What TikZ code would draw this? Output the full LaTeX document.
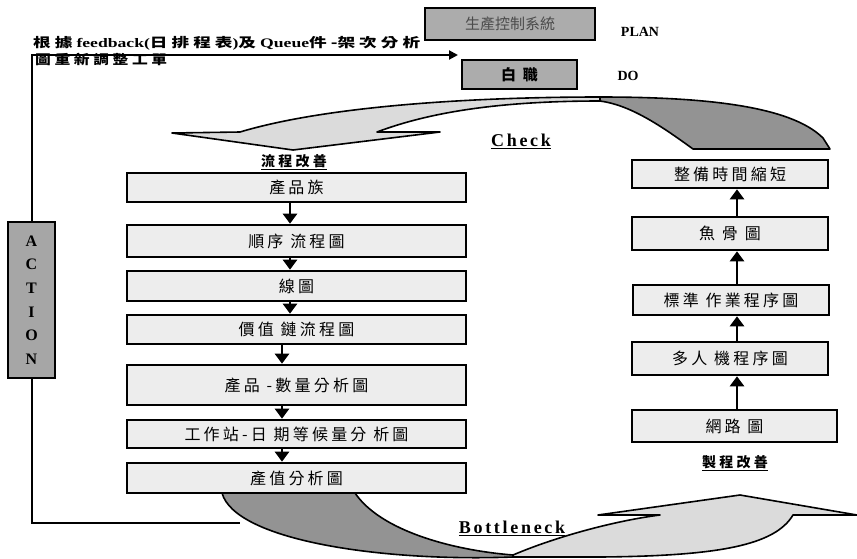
\documentclass[tikz,border=0pt]{standalone}
\usepackage{fontspec}
\usepackage{graphicx}
\setmainfont{Liberation Serif}
\newfontfamily\cjk{Noto Sans CJK TC}
\newfontfamily\cjkls[LetterSpace=20]{Noto Sans CJK TC}
\newfontfamily\serls[LetterSpace=15]{Liberation Serif}
\usetikzlibrary{arrows.meta}
\tikzset{
  box/.style={draw, line width=2.6pt, fill=gray!14, minimum width=339pt, inner sep=0pt, font=\cjkls\fontsize{16}{18}\selectfont},
  rbox/.style={box, minimum width=196pt},
  darkbox/.style={draw, line width=2.6pt, fill=gray!65, inner sep=0pt},
  arr/.style={line width=2.6pt, -{Triangle[length=10pt,width=14pt]}},
  fline/.style={line width=2pt},
  ribbon/.style={draw, line width=1.6pt, line join=round},
  lbl/.style={font=\serls\bfseries\fontsize{18}{20}\selectfont, inner sep=1pt},
  clbl/.style={font=\cjk\bfseries\fontsize{14}{16}\selectfont, inner sep=1pt},
  plbl/.style={font=\bfseries\fontsize{14}{16}\selectfont, inner sep=0pt}
}
\begin{document}
\begin{tikzpicture}[x=1pt,y=-1pt]
\useasboundingbox (0,0) rectangle (857,558);

% ribbons
\path[ribbon, fill=gray!28] (172,133) -- (293,150) -- (440,132) -- (377,132)
  .. controls (430,112) and (500,101) .. (600,101) -- (600,97)
  .. controls (480,97) and (330,105) .. (240,132) -- cycle;
\path[ribbon, fill=gray!85] (600,97) .. controls (700,97) and (790,105) .. (823,138)
  -- (830,149) -- (693,149) .. controls (660,125) and (630,105) .. (600,101) -- cycle;
\path[ribbon, fill=gray!85] (222,493) -- (355,493) .. controls (380,530) and (450,550) .. (513,555)
  -- (513,557) .. controls (380,562) and (235,540) .. (222,493) -- cycle;
\path[ribbon, fill=gray!28] (513,555) .. controls (560,535) and (620,520) .. (660,515)
  -- (598,515) -- (740,495) -- (857,515) -- (793,515)
  .. controls (775,545) and (720,556) .. (600,557) -- (513,557) -- cycle;

% top boxes
\node[darkbox, minimum width=170pt, minimum height=32pt, font=\cjk\fontsize{15}{17}\selectfont, text=black!70] (plan) at (510,24) {生產控制系統};
\node[darkbox, minimum width=115pt, minimum height=29pt, font=\cjk\bfseries\fontsize{15}{17}\selectfont] (do) at (519.5,74.5) {白\ \ 職};
\node[plbl] (planl) at (640,32) {PLAN};
\node[plbl] (dol) at (628,76) {DO};

% top text
\node[anchor=base west, inner sep=0pt, font=\bfseries\fontsize{13}{15}\selectfont] (t1) at (33,47)
  {\resizebox{387pt}{\height}{\cjk 根 據 \rmfamily\bfseries feedback(\cjk 日 排 程 表\rmfamily\bfseries )\cjk 及 \rmfamily\bfseries Queue\cjk 件 -架 次 分 析}};
\node[anchor=base west, inner sep=0pt, font=\cjk\bfseries\fontsize{13}{15}\selectfont] (t2) at (35,64)
  {\resizebox{132pt}{\height}{圖 重 新 調 整 工 單}};

% left column
\node[box, minimum height=29pt] (b1) at (296.5,187.5) {產品族};
\node[box, minimum height=32pt] (b2) at (296.5,241) {順序 流程圖};
\node[box, minimum height=30pt] (b3) at (296.5,286) {線圖};
\node[box, minimum height=29pt] (b4) at (296.5,329.5) {價值 鏈流程圖};
\node[box, minimum height=40pt] (b5) at (296.5,385) {產品 -數量分析圖};
\node[box, minimum height=28pt] (b6) at (296.5,434) {工作站-日 期等候量分 析圖};
\node[box, minimum height=30pt] (b7) at (296.5,478) {產值分析圖};
\coordinate (axa) at (290,0);
\coordinate (axb) at (282,0);
\draw[arr] (b1.south -| axa) -- (b2.north -| axa);
\draw[arr] (b2.south -| axa) -- (b3.north -| axa);
\draw[arr] (b3.south -| axa) -- (b4.north -| axa);
\draw[arr] (b4.south -| axb) -- (b5.north -| axb);
\draw[arr] (b5.south -| axb) -- (b6.north -| axb);
\draw[arr] (b6.south -| axb) -- (b7.north -| axb);

% right column
\node[rbox, minimum height=28pt] (r1) at (730,174) {整備時間縮短};
\node[rbox, minimum height=33pt] (r2) at (730,233.5) {魚 骨 圖};
\node[rbox, minimum height=30pt] (r3) at (731,300) {標準 作業程序圖};
\node[rbox, minimum height=33pt] (r4) at (730,358.5) {多人 機程序圖};
\node[rbox, minimum width=205pt, minimum height=32pt] (r5) at (734.5,426) {網路 圖};
\coordinate (axr) at (737,0);
\draw[arr] (r5.north -| axr) -- (r4.south -| axr);
\draw[arr] (r4.north -| axr) -- (r3.south -| axr);
\draw[arr] (r3.north -| axr) -- (r2.south -| axr);
\draw[arr] (r2.north -| axr) -- (r1.south -| axr);

% labels
\node[clbl] (lab1) at (294,162) {\underline{流 程 改 善}};
\node[clbl] (lab2) at (735,463) {\underline{製 程 改 善}};
\node[lbl] (chk) at (521,141) {\underline{Check}};
\node[lbl] (btl) at (512,528) {\underline{Bottleneck}};

% action
\node[darkbox, fill=gray!70, minimum width=47pt, minimum height=156pt, align=center,
  font=\bfseries\fontsize{16}{23.6}\selectfont] (act) at (31.5,300) {A\\C\\T\\I\\O\\N};
\coordinate (fb) at (458,55);
\coordinate (bb) at (240,523);
\draw[fline, -{Triangle[length=9pt,width=9pt]}] (act.north) |- (fb);
\draw[fline] (act.south) |- (bb);
\end{tikzpicture}
\end{document}
